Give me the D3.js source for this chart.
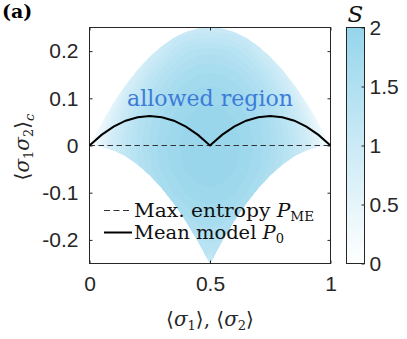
<!DOCTYPE html>
<html>
<head>
<meta charset="utf-8">
<script src="https://cdn.jsdelivr.net/npm/d3@7"></script>
<style>
body { margin: 0; background: #fff; }
svg { display: block; }
</style>
</head>
<body>
<svg id="chart"></svg>
<script>
var width = 407;
var height = 339;

var margin = {top: 27.5, left: 89.5, right: 76.5, bottom: 75.5};

// entropy S on a grid: columns are <sigma> = 0..1, rows are <s1 s2>_c = -0.25..0.25
var mGrid = [0, 0.05, 0.1, 0.15, 0.2, 0.25, 0.3, 0.35, 0.4, 0.45, 0.5,
             0.55, 0.6, 0.65, 0.7, 0.75, 0.8, 0.85, 0.9, 0.95, 1];
var cGrid = [-0.25, -0.2, -0.15, -0.1, -0.05, 0, 0.05, 0.1, 0.15, 0.2, 0.25];
var entropyRows = [
  [0, .57, .92, 1.18, 1.37, 1.50, 1.57, 1.58, 1.52, 1.37, 1.00, 1.37, 1.52, 1.58, 1.57, 1.50, 1.37, 1.18, .92, .57, 0],
  [0, .57, .92, 1.18, 1.37, 1.50, 1.57, 1.58, 1.52, 1.40, 1.47, 1.40, 1.52, 1.58, 1.57, 1.50, 1.37, 1.18, .92, .57, 0],
  [0, .57, .92, 1.18, 1.37, 1.50, 1.57, 1.58, 1.60, 1.70, 1.72, 1.70, 1.60, 1.58, 1.57, 1.50, 1.37, 1.18, .92, .57, 0],
  [0, .57, .92, 1.18, 1.37, 1.50, 1.57, 1.71, 1.81, 1.86, 1.88, 1.86, 1.81, 1.71, 1.57, 1.50, 1.37, 1.18, .92, .57, 0],
  [0, .57, .92, 1.18, 1.37, 1.56, 1.72, 1.83, 1.91, 1.96, 1.97, 1.96, 1.91, 1.83, 1.72, 1.56, 1.37, 1.18, .92, .57, 0],
  [0, .57, .94, 1.22, 1.44, 1.62, 1.76, 1.87, 1.94, 1.99, 2.00, 1.99, 1.94, 1.87, 1.76, 1.62, 1.44, 1.22, .94, .57, 0],
  [0, .29, .80, 1.13, 1.38, 1.58, 1.72, 1.83, 1.91, 1.96, 1.97, 1.96, 1.91, 1.83, 1.72, 1.58, 1.38, 1.13, .80, .29, 0],
  [0, .29, .47, .89, 1.21, 1.44, 1.61, 1.73, 1.82, 1.87, 1.88, 1.87, 1.82, 1.73, 1.61, 1.44, 1.21, .89, .47, .29, 0],
  [0, .29, .47, .61, .86, 1.18, 1.39, 1.54, 1.65, 1.70, 1.72, 1.70, 1.65, 1.54, 1.39, 1.18, .86, .61, .47, .29, 0],
  [0, .29, .47, .61, .72, .81, 1.02, 1.24, 1.37, 1.45, 1.47, 1.45, 1.37, 1.24, 1.02, .81, .72, .61, .47, .29, 0],
  [0, .29, .47, .61, .72, .81, .88, .93, .97, .99, 1.00, .99, .97, .93, .88, .81, .72, .61, .47, .29, 0]
];

// edges of the allowed region, same <sigma> values as mGrid
var regionUpper = [0, 0.0475, 0.09, 0.1275, 0.16, 0.1875, 0.21, 0.2275, 0.24, 0.2475, 0.25,
                   0.2475, 0.24, 0.2275, 0.21, 0.1875, 0.16, 0.1275, 0.09, 0.0475, 0];
var regionLower = [0, -0.0025, -0.01, -0.0225, -0.04, -0.0625, -0.09, -0.1225, -0.16, -0.2025, -0.25,
                   -0.2025, -0.16, -0.1225, -0.09, -0.0625, -0.04, -0.0225, -0.01, -0.0025, 0];

// mean model P0 and max entropy line
var meanModel = [0, 0.0225, 0.04, 0.0525, 0.06, 0.0625, 0.06, 0.0525, 0.04, 0.0225, 0,
                 0.0225, 0.04, 0.0525, 0.06, 0.0625, 0.06, 0.0525, 0.04, 0.0225, 0];
var maxEntM = [0, 1];
var maxEntC = [0, 0];

var xTicks = [0, 0.5, 1];
var yTicks = [-0.2, -0.1, 0, 0.1, 0.2];
var sTicks = [0, 0.5, 1, 1.5, 2];
var sLevels = [0, 0.1, 0.2, 0.3, 0.4, 0.5, 0.6, 0.7, 0.8, 0.9, 1.0,
               1.1, 1.2, 1.3, 1.4, 1.5, 1.6, 1.7, 1.8, 1.9];

var sansFont = "'Liberation Sans', Arial, sans-serif";
var serifFont = "'DejaVu Serif', 'Liberation Serif', serif";
var axisColor = "#262626";

var svg = d3.select("#chart").attr("width", width).attr("height", height);

var xScale = d3.scaleLinear()
.domain([0, 1])
.range([margin.left, 330.5]);

var yScale = d3.scaleLinear()
.domain([-0.25, 0.25])
.range([height - margin.bottom, margin.top]);

var sScale = d3.scaleLinear()
.domain([0, 2])
.range([height - margin.bottom, margin.top]);

var color = d3.scaleLinear()
.domain([0, 2])
.range(["#ffffff", "#96d5ec"]);

// clip to allowed region
var regionArea = d3.area()
.x(function(d, i) {return xScale(mGrid[i]);})
.y0(function(d, i) {return yScale(regionLower[i]);})
.y1(function(d, i) {return yScale(regionUpper[i]);});

svg.append("clipPath")
.attr("id", "region")
.append("path")
.attr("d", regionArea(mGrid));

// filled contours of S
var values = [];
entropyRows.forEach(function(row) { values = values.concat(row); });

var contours = d3.contours()
.size([mGrid.length, cGrid.length])
.thresholds(sLevels)(values);

var gx = d3.scaleLinear().domain([0.5, mGrid.length - 0.5]).range([xScale(0), xScale(1)]);
var gy = d3.scaleLinear().domain([0.5, cGrid.length - 0.5]).range([yScale(-0.25), yScale(0.25)]);
var gridPath = d3.geoPath(d3.geoTransform({
  point: function(px, py) { this.stream.point(gx(px), gy(py)); }
}));

svg.append("g")
.attr("clip-path", "url(#region)")
.selectAll("path")
.data(contours)
.enter()
.append("path")
.attr("d", gridPath)
.attr("fill", function(d) {return color(d.value + 0.05);})
.attr("stroke", "none");

// axes with inward ticks on all four sides
function noLabels(g) { g.selectAll("text").remove(); g.select(".domain").remove(); }

var yAxis = svg.append("g")
.attr("transform", `translate(${xScale(0)},0)`)
.call(d3.axisLeft(yScale).tickValues(yTicks).tickSize(-3).tickPadding(11)
      .tickFormat(function(d) {return String(d);}));
yAxis.select(".domain").remove();
yAxis.selectAll("text").attr("font-family", sansFont).attr("font-size", 21).attr("fill", axisColor);

svg.append("g")
.attr("transform", `translate(${xScale(1)},0)`)
.call(d3.axisRight(yScale).tickValues(yTicks).tickSize(-3))
.call(noLabels);

var xAxis = svg.append("g")
.attr("transform", `translate(0,${yScale(-0.25)})`)
.call(d3.axisBottom(xScale).tickValues(xTicks).tickSize(-3).tickPadding(13)
      .tickFormat(function(d) {return String(d);}));
xAxis.select(".domain").remove();
xAxis.selectAll("text").attr("font-family", sansFont).attr("font-size", 21).attr("fill", axisColor);

svg.append("g")
.attr("transform", `translate(0,${yScale(0.25)})`)
.call(d3.axisTop(xScale).tickValues(xTicks).tickSize(-3))
.call(noLabels);

svg.selectAll(".tick line").attr("stroke", axisColor);

svg.append("rect")
.attr("x", xScale(0))
.attr("y", yScale(0.25))
.attr("width", xScale(1) - xScale(0))
.attr("height", yScale(-0.25) - yScale(0.25))
.attr("fill", "none")
.attr("stroke", axisColor)
.attr("stroke-width", 1);

// max entropy (dashed) and mean model (solid)
var maxLine = d3.line()
.x(function(d, i) {return xScale(maxEntM[i]);})
.y(function(d) {return yScale(d);});

svg.append("path")
.attr("d", maxLine(maxEntC))
.attr("fill", "none")
.attr("stroke", "#333")
.attr("stroke-width", 1)
.attr("stroke-dasharray", "5.5,3.5");

var meanLine = d3.line()
.x(function(d, i) {return xScale(mGrid[i]);})
.y(function(d) {return yScale(d);});

svg.append("path")
.attr("d", meanLine(meanModel))
.attr("fill", "none")
.attr("stroke", "#000")
.attr("stroke-width", 2);

// region label
svg.append("text")
.attr("x", 210)
.attr("y", 106)
.attr("text-anchor", "middle")
.attr("font-family", serifFont)
.attr("font-size", 22)
.attr("fill", "#3d7bd9")
.attr("textLength", 166)
.attr("lengthAdjust", "spacingAndGlyphs")
.text("allowed region");

// legend
var legend = svg.append("g").attr("font-family", serifFont).attr("font-size", 18).attr("fill", "#111");

legend.append("line")
.attr("x1", 104).attr("x2", 132).attr("y1", 210.5).attr("y2", 210.5)
.attr("stroke", "#333").attr("stroke-dasharray", "6,3.5");

var t1 = legend.append("text").attr("x", 134).attr("y", 217)
.attr("textLength", 180).attr("lengthAdjust", "spacingAndGlyphs");
t1.append("tspan").text("Max. entropy ");
t1.append("tspan").attr("font-style", "italic").text("P");
t1.append("tspan").attr("font-size", 12).attr("dy", 4).text("ME");

legend.append("line")
.attr("x1", 104).attr("x2", 132).attr("y1", 232.5).attr("y2", 232.5)
.attr("stroke", "#000").attr("stroke-width", 2);

var t2 = legend.append("text").attr("x", 134).attr("y", 239)
.attr("textLength", 150).attr("lengthAdjust", "spacingAndGlyphs");
t2.append("tspan").text("Mean model ");
t2.append("tspan").attr("font-style", "italic").text("P");
t2.append("tspan").attr("font-size", 12).attr("dy", 4).text("0");

// axis titles
var xTitle = svg.append("text")
.attr("x", 210)
.attr("y", 326)
.attr("text-anchor", "middle")
.attr("font-family", serifFont)
.attr("font-size", 20)
.attr("fill", axisColor);
xTitle.append("tspan").text("\u27E8");
xTitle.append("tspan").attr("font-style", "italic").text("σ");
xTitle.append("tspan").attr("font-size", 13).attr("dy", 4).text("1");
xTitle.append("tspan").attr("dy", -4).text("\u27E9, \u27E8");
xTitle.append("tspan").attr("font-style", "italic").text("σ");
xTitle.append("tspan").attr("font-size", 13).attr("dy", 4).text("2");
xTitle.append("tspan").attr("dy", -4).text("\u27E9");

var yTitle = svg.append("text")
.attr("transform", "translate(29,147) rotate(-90)")
.attr("text-anchor", "middle")
.attr("font-family", serifFont)
.attr("font-size", 20)
.attr("fill", axisColor);
yTitle.append("tspan").text("\u27E8");
yTitle.append("tspan").attr("font-style", "italic").text("σ");
yTitle.append("tspan").attr("font-size", 13).attr("dy", 4).text("1");
yTitle.append("tspan").attr("font-style", "italic").attr("dy", -4).text("σ");
yTitle.append("tspan").attr("font-size", 13).attr("dy", 4).text("2");
yTitle.append("tspan").attr("dy", -4).text("\u27E9");
yTitle.append("tspan").attr("font-size", 13).attr("font-style", "italic").attr("dy", 5).text("c");

// panel tag
svg.append("text")
.attr("x", 2)
.attr("y", 18)
.attr("font-family", serifFont)
.attr("font-size", 19)
.attr("font-weight", "bold")
.text("(a)");

// colorbar
var cbX = 346.5, cbW = 18;
var grad = svg.append("defs").append("linearGradient")
.attr("id", "sgrad").attr("x1", 0).attr("y1", 1).attr("x2", 0).attr("y2", 0);
grad.selectAll("stop")
.data(sTicks)
.enter()
.append("stop")
.attr("offset", function(d) {return d / 2;})
.attr("stop-color", function(d) {return color(d);});

svg.append("rect")
.attr("x", cbX)
.attr("y", sScale(2))
.attr("width", cbW)
.attr("height", sScale(0) - sScale(2))
.attr("fill", "url(#sgrad)")
.attr("stroke", axisColor)
.attr("stroke-width", 1);

var sAxis = svg.append("g")
.attr("transform", `translate(${cbX + cbW},0)`)
.call(d3.axisRight(sScale).tickValues(sTicks).tickSize(-3).tickPadding(5)
      .tickFormat(function(d) {return String(d);}));
sAxis.select(".domain").remove();
sAxis.selectAll("line").attr("stroke", axisColor);
sAxis.selectAll("text").attr("font-family", sansFont).attr("font-size", 21).attr("fill", axisColor);

svg.append("text")
.attr("x", cbX + cbW / 2)
.attr("y", 22)
.attr("text-anchor", "middle")
.attr("font-family", serifFont)
.attr("font-style", "italic")
.attr("font-size", 23)
.attr("fill", "#111")
.text("S");
</script>
</body>
</html>
